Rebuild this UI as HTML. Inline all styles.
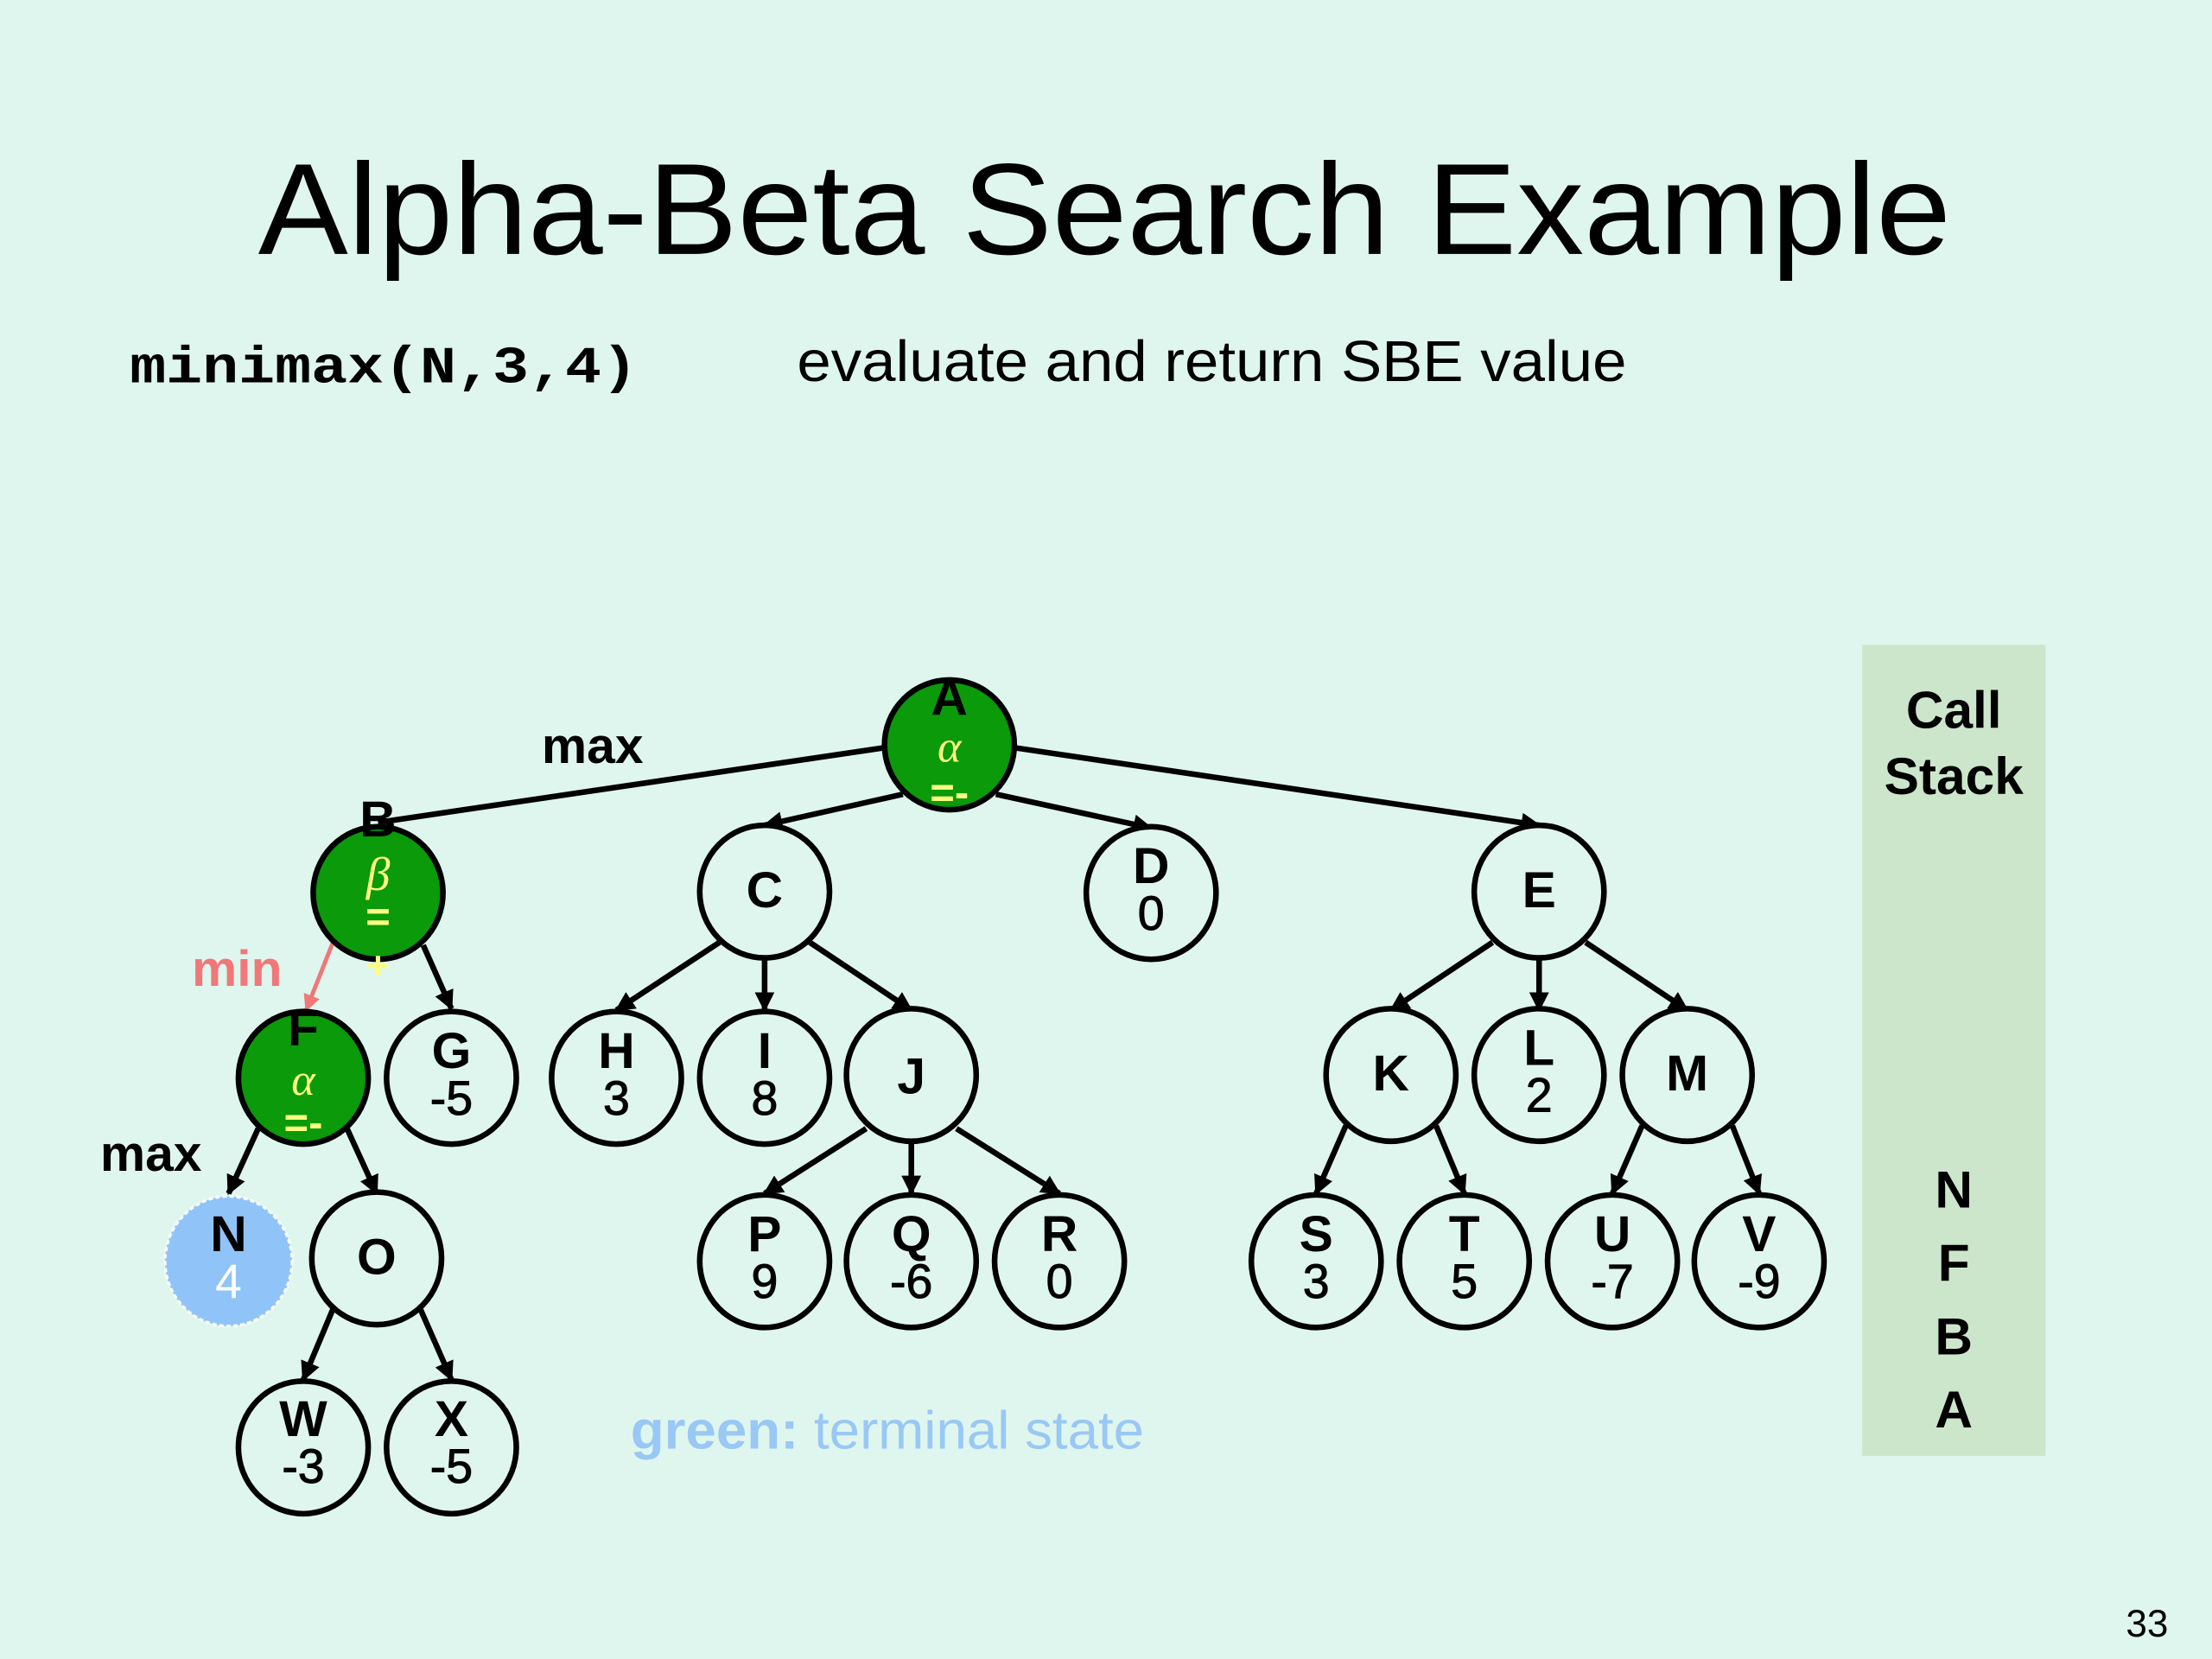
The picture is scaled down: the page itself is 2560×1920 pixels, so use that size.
<!DOCTYPE html>
<html><head><meta charset="utf-8"><style>
html,body{margin:0;padding:0;background:#dff6ef;}
svg{display:block;}
text{font-family:"Liberation Sans",Arial,sans-serif;}
</style></head><body>
<svg width="2560" height="1920" viewBox="0 0 1568 1176" xmlns="http://www.w3.org/2000/svg">
<defs>
<marker id="ar" viewBox="0 0 10 10" refX="9" refY="5" markerWidth="3.5" markerHeight="3.5" orient="auto" markerUnits="strokeWidth"><path d="M0,0L10,5L0,10z" fill="#000"/></marker>
<marker id="arp" viewBox="0 0 10 10" refX="9" refY="5" markerWidth="4" markerHeight="4" orient="auto" markerUnits="strokeWidth"><path d="M0,0L10,5L0,10z" fill="#f07878"/></marker>
</defs>
<rect width="1568" height="1176" fill="#dff6ef"/>
<text x="183" y="180" font-size="92" textLength="1200" lengthAdjust="spacingAndGlyphs">Alpha-Beta Search Example</text>
<text x="92" y="271" font-size="37" font-weight="bold" style="font-family:'Liberation Mono',monospace" textLength="360" lengthAdjust="spacingAndGlyphs">minimax(N,3,4)</text>
<text x="565" y="270" font-size="41" textLength="588" lengthAdjust="spacingAndGlyphs">evaluate and return SBE value</text>
<rect x="1320" y="457" width="130" height="575" fill="#cce6cc"/>
<g font-size="37" font-weight="bold" text-anchor="middle">
<text x="1385" y="516">Call</text><text x="1385" y="563">Stack</text>
<text x="1385" y="856">N</text><text x="1385" y="908">F</text><text x="1385" y="960">B</text><text x="1385" y="1012">A</text>
</g>
<text x="1522" y="1160" font-size="27" text-anchor="middle">33</text>
<text x="447" y="1027" font-size="38" fill="#99c8f5" textLength="364" lengthAdjust="spacingAndGlyphs"><tspan font-weight="bold">green:</tspan> terminal state</text>
<g stroke="#000" stroke-width="4" fill="none">
<line x1="627" y1="530" x2="268" y2="583"/>
<line x1="719" y1="530" x2="1091" y2="585" marker-end="url(#ar)"/>
<line x1="640" y1="563" x2="542" y2="585" marker-end="url(#ar)"/>
<line x1="706" y1="563" x2="816" y2="587" marker-end="url(#ar)"/>
<line x1="300" y1="670" x2="320" y2="715" marker-end="url(#ar)"/>
<line x1="510" y1="668" x2="437" y2="716" marker-end="url(#ar)"/>
<line x1="542" y1="678" x2="542" y2="716" marker-end="url(#ar)"/>
<line x1="574" y1="668" x2="646" y2="716" marker-end="url(#ar)"/>
<line x1="1058" y1="668" x2="986" y2="716" marker-end="url(#ar)"/>
<line x1="1091" y1="678" x2="1091" y2="716" marker-end="url(#ar)"/>
<line x1="1124" y1="668" x2="1196" y2="716" marker-end="url(#ar)"/>
<line x1="183" y1="800" x2="162" y2="846" marker-end="url(#ar)"/>
<line x1="246" y1="800" x2="267" y2="846" marker-end="url(#ar)"/>
<line x1="614" y1="800" x2="542" y2="846" marker-end="url(#ar)"/>
<line x1="646" y1="810" x2="646" y2="846" marker-end="url(#ar)"/>
<line x1="678" y1="800" x2="751" y2="846" marker-end="url(#ar)"/>
<line x1="954" y1="798" x2="933" y2="846" marker-end="url(#ar)"/>
<line x1="1018" y1="798" x2="1038" y2="846" marker-end="url(#ar)"/>
<line x1="1164" y1="798" x2="1143" y2="846" marker-end="url(#ar)"/>
<line x1="1228" y1="798" x2="1247" y2="846" marker-end="url(#ar)"/>
<line x1="236" y1="928" x2="215" y2="978" marker-end="url(#ar)"/>
<line x1="298" y1="928" x2="320" y2="978" marker-end="url(#ar)"/>
</g>
<line x1="236" y1="668" x2="217" y2="716" stroke="#f07878" stroke-width="3" marker-end="url(#arp)"/>
<g stroke="#000" stroke-width="4" fill="#dff6ef">
<ellipse cx="673" cy="528" rx="46" ry="46" fill="#0a9a0a"/>
<ellipse cx="268" cy="633" rx="46" ry="47" fill="#0a9a0a"/>
<ellipse cx="215" cy="764" rx="46" ry="47" fill="#0a9a0a"/>
<ellipse cx="542" cy="632" rx="46" ry="47"/>
<ellipse cx="816" cy="633" rx="46" ry="47"/>
<ellipse cx="1091" cy="632" rx="46" ry="47"/>
<ellipse cx="320" cy="764" rx="46" ry="47"/>
<ellipse cx="437" cy="764" rx="46" ry="47"/>
<ellipse cx="542" cy="764" rx="46" ry="47"/>
<ellipse cx="646" cy="762" rx="46" ry="47"/>
<ellipse cx="986" cy="762" rx="46" ry="47"/>
<ellipse cx="1091" cy="762" rx="46" ry="47"/>
<ellipse cx="1196" cy="762" rx="46" ry="47"/>
<ellipse cx="267" cy="892" rx="46" ry="47"/>
<ellipse cx="542" cy="894" rx="46" ry="47"/>
<ellipse cx="646" cy="894" rx="46" ry="47"/>
<ellipse cx="751" cy="894" rx="46" ry="47"/>
<ellipse cx="933" cy="894" rx="46" ry="47"/>
<ellipse cx="1038" cy="894" rx="46" ry="47"/>
<ellipse cx="1143" cy="894" rx="46" ry="47"/>
<ellipse cx="1247" cy="894" rx="46" ry="47"/>
<ellipse cx="215" cy="1026" rx="46" ry="47"/>
<ellipse cx="320" cy="1026" rx="46" ry="47"/>
</g>
<ellipse cx="162" cy="894" rx="45" ry="46" fill="#90c4f8" stroke="#fff" stroke-width="2" stroke-dasharray="3,2"/>
<g font-size="36" font-weight="bold" text-anchor="middle">
<text x="673" y="507">A</text>
<text x="268" y="593">B</text>
<text x="215" y="741">F</text>
<text x="542" y="643">C</text>
<text x="1091" y="643">E</text>
<text x="646" y="775">J</text>
<text x="986" y="773">K</text>
<text x="1196" y="773">M</text>
<text x="267" y="903">O</text>
<text x="816" y="626">D</text>
<text x="320" y="757">G</text>
<text x="437" y="757">H</text>
<text x="542" y="757">I</text>
<text x="1091" y="755">L</text>
<text x="162" y="887">N</text>
<text x="542" y="887">P</text>
<text x="646" y="887">Q</text>
<text x="751" y="887">R</text>
<text x="933" y="887">S</text>
<text x="1038" y="887">T</text>
<text x="1143" y="887">U</text>
<text x="1247" y="887">V</text>
<text x="215" y="1018">W</text>
<text x="320" y="1018">X</text>
</g>
<g font-size="34" text-anchor="middle" stroke="#000" stroke-width="0.6">
<text x="816" y="659">0</text>
<text x="320" y="790">-5</text>
<text x="437" y="790">3</text>
<text x="542" y="790">8</text>
<text x="1091" y="788">2</text>
<text x="542" y="920">9</text>
<text x="646" y="920">-6</text>
<text x="751" y="920">0</text>
<text x="933" y="920">3</text>
<text x="1038" y="920">5</text>
<text x="1143" y="920">-7</text>
<text x="1247" y="920">-9</text>
<text x="215" y="1051">-3</text>
<text x="320" y="1051">-5</text>
</g>
<text x="162" y="920" font-size="34" text-anchor="middle" fill="#fff">4</text>
<g fill="#ffff80" text-anchor="middle">
<text x="673" y="540" font-size="32" font-style="italic" style="font-family:'Liberation Serif',serif">α</text>
<text x="673" y="572" font-size="30" font-weight="bold">=-</text>
<text x="268" y="631" font-size="34" font-style="italic" style="font-family:'Liberation Serif',serif">β</text>
<text x="268" y="660" font-size="30" font-weight="bold">=</text>
<text x="268" y="694" font-size="28" font-weight="bold">+</text>
<text x="215" y="776" font-size="32" font-style="italic" style="font-family:'Liberation Serif',serif">α</text>
<text x="215" y="806" font-size="30" font-weight="bold">=-</text>
</g>
<g font-size="36" font-weight="bold" text-anchor="middle">
<text x="420" y="541">max</text>
<text x="168" y="699" fill="#f07878">min</text>
<text x="107" y="830">max</text>
</g>
</svg>
</body></html>
